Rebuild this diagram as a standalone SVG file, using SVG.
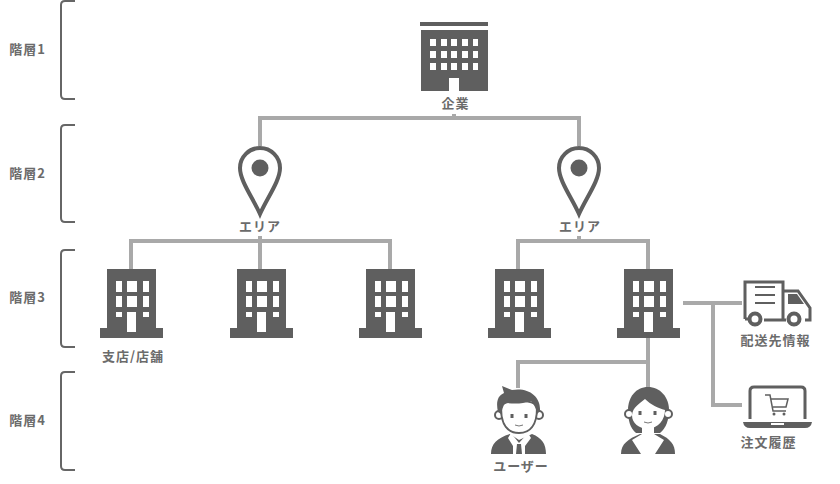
<svg xmlns="http://www.w3.org/2000/svg" width="840" height="484" viewBox="0 0 840 484">
<style>
.t{font-family:"Noto Sans CJK JP","Noto Sans",sans-serif;font-size:13px;font-weight:700;letter-spacing:1px;fill:#6b6b6b;text-anchor:middle}
.c{fill:none;stroke:#a9a9a9;stroke-width:4}
.b{fill:none;stroke:#666;stroke-width:2}
.d{fill:#5f5f5f}
.w{fill:#fff}
.o{fill:none;stroke:#5f5f5f;stroke-width:3}
</style>
<defs>
<g id="shop">
<path class="d" d="M-24 0H25V59H32V69H-31V59H-24Z"/>
<path class="w" d="M-15 12h6v11h-6zM-4 12h10v11h-10zM12 12h6v11h-6zM-15 27h6v11h-6zM-4 27h10v11h-10zM12 27h6v11h-6zM-15 43h6v5h-6zM12 43h6v5h-6zM-4 43h9v20h-9z"/>
</g>
<path id="pin" d="M0 0C-11 0-20 9-20 20C-20 33-7 50 0 66C7 50 20 33 20 20C20 9 11 0 0 0Z" fill="#fff" stroke="#5f5f5f" stroke-width="4"/>
</defs>
<g id="connectors">
<path class="c" d="M454 114V118M260 146V118H579V146"/>
<path class="c" d="M131 269V241H390V269M260 236V269"/>
<path class="c" d="M518 269V241H648V269M579 236V241"/>
<path class="c" d="M648 338V388M518 388V362H648"/>
<path class="c" d="M683 303H742M713 303V405H742"/>
</g>
<g id="tier-1"><path class="b" d="M75 1H65Q61 1 61 5V95Q61 99 65 99H75"/><text class="t" x="27.500" y="54">階層1</text></g>
<g id="tier-2"><path class="b" d="M75 125H65Q61 125 61 129V218Q61 222 65 222H75"/><text class="t" x="27.500" y="178">階層2</text></g>
<g id="tier-3"><path class="b" d="M75 250H65Q61 250 61 254V343Q61 347 65 347H75"/><text class="t" x="27.500" y="302">階層3</text></g>
<g id="tier-4"><path class="b" d="M75 372H65Q61 372 61 376V466Q61 470 65 470H75"/><text class="t" x="27.500" y="425">階層4</text></g>
<g id="company">
<rect class="d" x="420" y="22" width="68" height="4"/>
<path class="d" d="M421 30H488V91H421Z"/>
<path class="w" d="M430 39h6v7h-6zM441 39h6v7h-6zM451 39h6v7h-6zM462 39h6v7h-6zM473 39h5v7h-5zM430 51h6v7h-6zM441 51h6v7h-6zM451 51h6v7h-6zM462 51h6v7h-6zM473 51h5v7h-5zM430 63h6v7h-6zM441 63h6v7h-6zM451 63h6v7h-6zM462 63h6v7h-6zM473 63h5v7h-5zM449 78h10v13h-10z"/>
<text class="t" x="455.500" y="108">企業</text>
</g>
<g id="area-1"><use href="#pin" x="260" y="148"/><circle class="d" cx="260" cy="168" r="8.500"/><text class="t" x="260" y="231">エリア</text></g>
<g id="area-2"><use href="#pin" x="579" y="148"/><circle class="d" cx="579" cy="168" r="8.500"/><text class="t" x="580" y="231">エリア</text></g>
<g id="shop-1"><use href="#shop" x="131" y="269"/><text class="t" x="133" y="361">支店/店舗</text></g>
<g id="shop-2"><use href="#shop" x="261" y="269"/></g>
<g id="shop-3"><use href="#shop" x="390" y="269"/></g>
<g id="shop-4"><use href="#shop" x="519" y="269"/></g>
<g id="shop-5"><use href="#shop" x="648" y="269"/></g>
<g id="user-man">
<path class="d" d="M491 454C491 444 497 438 510 434L519 440L532 434C542 438 546 444 546 454Z"/>
<path class="w" d="M511 433L519 443L528 433L531 438L525 446V454H513V446L508 438Z"/>
<path class="d" d="M517 444h4l1 10h-6z"/>
<circle cx="499" cy="415" r="4" fill="#fff" stroke="#5f5f5f" stroke-width="2"/>
<circle cx="539" cy="415" r="4" fill="#fff" stroke="#5f5f5f" stroke-width="2"/>
<path d="M501 408C501 425 508 433 519 433C530 433 537 425 537 408C537 398 501 398 501 408Z" fill="#fff" stroke="#5f5f5f" stroke-width="2"/>
<path class="d" d="M502 386L512 390C528 387 541 396 540 411L537 414C536 408 534 404 531 401C520 405 510 403 505 403C503 406 502 410 501 414L498 412C496 403 497 396 504 393Z"/>
<path d="M512 414v4M526 414v4" stroke="#5f5f5f" stroke-width="3" fill="none"/>
<path d="M515 425q4 2 8 0" stroke="#777" stroke-width="1" fill="none"/>
<text class="t" x="521" y="471">ユーザー</text>
</g>
<g id="user-woman">
<path class="d" d="M621 454C621 444 628 439 640 434H660C670 439 675 444 675 454Z"/>
<path class="d" d="M648 387C636 387 628 397 628 410C628 420 630 428 636 433H660C666 428 669 420 669 410C669 397 660 387 648 387Z"/>
<circle cx="629" cy="414" r="4" fill="#fff" stroke="#5f5f5f" stroke-width="2"/>
<circle cx="668" cy="414" r="4" fill="#fff" stroke="#5f5f5f" stroke-width="2"/>
<path class="w" d="M632 415C633 407 639 404 645 399C651 405 658 408 665 410C665 420 658 428 648 429C639 428 632 424 632 415Z"/>
<path class="w" d="M642 426H654V434L664 440L655 454H641L632 440L642 434Z"/>
<path d="M640 411v4M655 411v4" stroke="#5f5f5f" stroke-width="3" fill="none"/>
<path d="M644 422q4 2 8 0" stroke="#777" stroke-width="1" fill="none"/>
</g>
<g id="delivery">
<path class="o" d="M745 319V282H783V319"/>
<path class="o" d="M783 291H798L810 308V320H805M745 319H749M764 320H786"/>
<path class="d" d="M788 294H797L804 304H788Z"/>
<path d="M755 287H775M755 295H775M755 303H775" stroke="#5f5f5f" stroke-width="2" fill="none"/>
<circle cx="755" cy="319" r="5.500" fill="#fff" stroke="#5f5f5f" stroke-width="4"/>
<circle cx="794" cy="319" r="5.500" fill="#fff" stroke="#5f5f5f" stroke-width="4"/>
<text class="t" x="775.500" y="345">配送先情報</text>
</g>
<g id="history">
<path class="o" d="M750 419V391Q750 387 754 387H801Q805 387 805 391V419"/>
<path class="d" d="M743 422H812Q811 428 805 428H750Q744 428 743 422ZM771 423v2h13v-2z"/>
<path d="M765 395H770L773 411H786M771 399H788L786 407H773" stroke="#5f5f5f" stroke-width="1.500" fill="none"/>
<circle class="d" cx="774" cy="414" r="1.500"/><circle class="d" cx="784" cy="414" r="1.500"/>
<text class="t" x="768.500" y="447">注文履歴</text>
</g>
</svg>
